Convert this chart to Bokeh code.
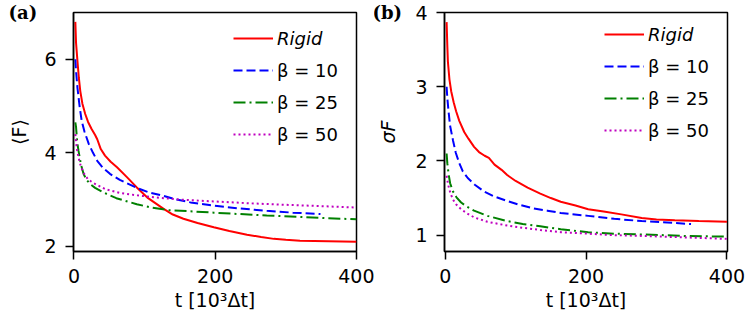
from bokeh.plotting import figure
from bokeh.layouts import row
from bokeh.models import Range1d, FixedTicker, Legend, LegendItem
from bokeh.embed import file_html
from bokeh.resources import INLINE

# ---------------- data: panel (a)  <F> ----------------
t_a_rigid = [2, 3, 5, 7, 9, 12, 16, 20, 25, 30, 33, 38, 44, 52, 61, 75, 89, 105, 127, 140, 155, 175,
             198, 220, 245, 265, 283, 300, 320, 360, 400]
F_a_rigid = [6.80, 6.35, 5.96, 5.60, 5.32, 5.05, 4.83, 4.66, 4.51, 4.38, 4.29, 4.08, 3.94, 3.81, 3.69,
             3.48, 3.26, 3.03, 2.80, 2.68, 2.59, 2.50, 2.41, 2.33, 2.25, 2.20, 2.16, 2.14, 2.12, 2.11, 2.10]
t_a_b10 = [2, 3, 5, 8, 11, 15, 21, 27, 33, 41, 51, 65, 89, 107, 127, 145, 165, 198, 235, 273, 310, 349]
F_a_b10 = [6.00, 5.75, 5.39, 5.00, 4.68, 4.45, 4.19, 4.00, 3.83, 3.68, 3.55, 3.42, 3.25, 3.15, 3.08,
           3.00, 2.94, 2.87, 2.81, 2.76, 2.72, 2.69]
t_a_b25 = [2, 3, 4.5, 6.5, 10, 13.6, 18, 23, 30, 42, 60, 89, 110, 136, 165, 198, 235, 273, 320, 360, 400]
F_a_b25 = [4.65, 4.55, 4.25, 4.04, 3.75, 3.55, 3.42, 3.33, 3.25, 3.15, 3.03, 2.90, 2.83, 2.77, 2.75,
           2.72, 2.69, 2.66, 2.63, 2.60, 2.58]
t_a_b50 = [2, 4, 6.5, 10, 13.6, 20, 28, 45, 66, 90, 113, 150, 198, 250, 297, 350, 400]
F_a_b50 = [4.40, 4.10, 3.90, 3.70, 3.57, 3.43, 3.35, 3.22, 3.14, 3.09, 3.05, 3.00, 2.96, 2.92, 2.89,
           2.86, 2.83]

# ---------------- data: panel (b)  sigma_F ----------------
t_b_rigid = [2, 3, 3.8, 6, 8.5, 12, 15.5, 20, 27, 33, 41, 48, 56, 62, 70, 80, 88, 100, 117, 135, 150,
             164, 185, 203, 225, 250, 279, 300, 326, 360, 400]
S_b_rigid = [3.87, 3.55, 3.34, 3.10, 2.94, 2.79, 2.67, 2.54, 2.39, 2.30, 2.19, 2.12, 2.07, 2.04, 1.95,
             1.88, 1.81, 1.73, 1.64, 1.56, 1.50, 1.45, 1.40, 1.35, 1.32, 1.28, 1.23, 1.21, 1.20, 1.19, 1.18]
t_b_b10 = [2, 3, 4.7, 7, 11, 15, 20, 25, 32, 42, 55, 70, 88, 105, 126, 145, 164, 203, 240, 279, 315, 349]
S_b_b10 = [3.00, 2.85, 2.67, 2.47, 2.28, 2.11, 1.97, 1.86, 1.77, 1.68, 1.59, 1.52, 1.46, 1.41, 1.36,
           1.33, 1.30, 1.26, 1.22, 1.19, 1.17, 1.15]
t_b_b25 = [2, 3, 4.7, 7, 11, 16, 22.6, 30, 41, 60, 88, 110, 135, 164, 203, 240, 279, 340, 400]
S_b_b25 = [2.10, 1.97, 1.83, 1.70, 1.59, 1.51, 1.44, 1.39, 1.33, 1.26, 1.19, 1.15, 1.12, 1.08, 1.04,
           1.02, 1.01, 0.99, 0.98]
t_b_b50 = [2, 4, 6, 8.5, 11, 16, 22.6, 30, 41, 60, 88, 110, 135, 164, 203, 240, 279, 340, 400]
S_b_b50 = [1.80, 1.69, 1.61, 1.54, 1.48, 1.41, 1.35, 1.30, 1.24, 1.18, 1.13, 1.10, 1.07, 1.04, 1.02,
           1.00, 0.99, 0.97, 0.95]

x_ticks = [0, 200, 400]
y_ticks_a = [2, 4, 6]
y_ticks_b = [1, 2, 3, 4]
labels = ["Rigid", "β = 10", "β = 25", "β = 50"]

COLORS = ["#ff0000", "#0000ff", "#008000", "#bf00bf"]
DASHES = ["solid", "9 4", "12 4 2 4", "2 3"]
FONT = "DejaVu Sans"


def style(p, yticks, xlabel, ylabel, tag, tag_offset):
    p.background_fill_color = "white"
    p.border_fill_color = "white"
    p.outline_line_color = "black"
    p.outline_line_width = 1.5
    p.xgrid.visible = False
    p.ygrid.visible = False
    for ax in (p.xaxis[0], p.yaxis[0]):
        ax.axis_line_color = "black"
        ax.axis_line_width = 1.5
        ax.major_tick_line_color = "black"
        ax.major_tick_line_width = 1.5
        ax.major_tick_out = 8
        ax.major_tick_in = 0
        ax.minor_tick_line_color = None
        ax.major_label_text_font = FONT
        ax.major_label_text_font_size = "19px"
        ax.major_label_text_color = "black"
        ax.major_label_standoff = 9
        ax.axis_label_text_font = FONT
        ax.axis_label_text_font_size = "19px"
        ax.axis_label_text_font_style = "normal"
        ax.axis_label_text_color = "black"
    p.xaxis.ticker = FixedTicker(ticks=x_ticks)
    p.yaxis.ticker = FixedTicker(ticks=yticks)
    p.xaxis.axis_label = xlabel
    p.xaxis.axis_label_standoff = 3
    p.yaxis.axis_label = ylabel
    p.yaxis.axis_label_standoff = 11
    # panel tag "(a)" / "(b)" as the figure title, pulled to the upper-left corner
    p.title.text = tag
    p.title.align = "left"
    p.title.vertical_align = "middle"
    p.title.offset = tag_offset
    p.title.standoff = -28
    p.title.text_font = "DejaVu Serif"
    p.title.text_font_style = "bold"
    p.title.text_font_size = "18px"
    p.title.text_color = "black"


def add_lines_and_legend(p, series, frame_h, top_off):
    rs = []
    for (tx, ty), c, d in zip(series, COLORS, DASHES):
        rs.append(p.line(tx, ty, line_color=c, line_width=2, line_dash=d))
    common = dict(border_line_color=None, background_fill_alpha=0, padding=0, margin=0,
                  spacing=10, glyph_width=40, glyph_height=22, label_height=22,
                  label_standoff=4, label_text_font=FONT, label_text_font_size="18px",
                  label_text_color="black")
    leg1 = Legend(items=[LegendItem(label=labels[0], renderers=[rs[0]])],
                  location=(160, frame_h - top_off - 22), label_text_font_style="italic", **common)
    leg2 = Legend(items=[LegendItem(label=l, renderers=[r]) for l, r in zip(labels[1:], rs[1:])],
                  location=(160, frame_h - top_off - 32 - 86), **common)
    p.add_layout(leg1)
    p.add_layout(leg2)


# ---------------- panel (a) ----------------
FH_A = 239
pa = figure(width=374, height=325, output_backend="svg", toolbar_location=None,
            x_range=Range1d(-0.6, 400), y_range=Range1d(1.89, 7.0),
            min_border_left=73, min_border_right=18, min_border_top=12, min_border_bottom=74)
style(pa, y_ticks_a, "t [10³Δt]", "⟨F⟩", "(a)", -65)
add_lines_and_legend(pa, [(t_a_rigid, F_a_rigid), (t_a_b10, F_a_b10),
                          (t_a_b25, F_a_b25), (t_a_b50, F_a_b50)], FH_A, 15)

# ---------------- panel (b) ----------------
FH_B = 243
pb = figure(width=374, height=325, output_backend="svg", toolbar_location=None,
            x_range=Range1d(-1, 400.8), y_range=Range1d(0.78, 4.0),
            min_border_left=68, min_border_right=21, min_border_top=10, min_border_bottom=72)
style(pb, y_ticks_b, "t [10³Δt]", "σF", "(b)", -72)
pb.yaxis.axis_label_text_font_style = "italic"
pb.yaxis.axis_label_standoff = 13
add_lines_and_legend(pb, [(t_b_rigid, S_b_rigid), (t_b_b10, S_b_b10),
                          (t_b_b25, S_b_b25), (t_b_b50, S_b_b50)], FH_B, 15)

layout = row(pa, pb, spacing=0)
open("out.html", "w").write(file_html(layout, INLINE))
